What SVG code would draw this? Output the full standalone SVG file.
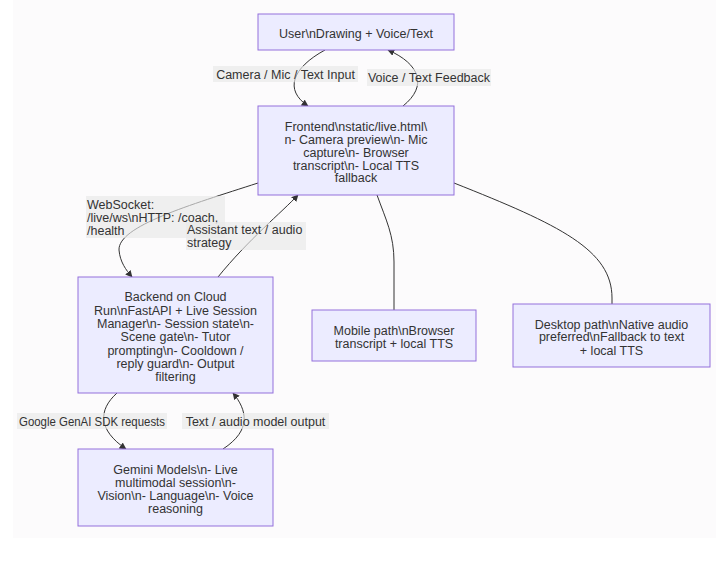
<svg xmlns="http://www.w3.org/2000/svg" width="716" height="573" viewBox="0 0 716 573">
<defs>
<style>
.node rect{fill:#ECECFF;stroke:#9370DB;stroke-width:1}
text{font-family:"Liberation Sans",Arial,sans-serif;font-size:12.5px;fill:#333}
.c{text-anchor:middle}
.edge{fill:none;stroke:#333;stroke-width:1}
.lbl{fill:#e8e8e8;fill-opacity:0.65}
</style>
<marker id="arr" viewBox="0 0 10 10" refX="9" refY="5" markerWidth="7" markerHeight="7" orient="auto-start-reverse" markerUnits="userSpaceOnUse">
<path d="M0,0 L10,5 L0,10 z" fill="#333"/>
</marker>
</defs>
<rect x="0" y="0" width="716" height="573" fill="#ffffff"/>
<rect x="13" y="0" width="703" height="538" fill="#fcfbfc"/>
<g id="connectors">
<path class="edge" d="M325,50 C292,68 284,90 308,106" marker-end="url(#arr)"/>
<path class="edge" d="M403,106 C428,86 420,64 388,50" marker-end="url(#arr)"/>
<path class="edge" d="M258,183 C190,205 118,226 119,250 C120,262 126,270 132,277" marker-end="url(#arr)"/>
<path class="edge" d="M218,277 C248,240 282,212 298,195" marker-end="url(#arr)"/>
<path class="edge" d="M377,195 C386,220 394,235 394,262 L394,310"/>
<path class="edge" d="M454,183 C560,225 612,250 612,298 L612,304"/>
<path class="edge" d="M117,393 C98,410 98,430 126,449" marker-end="url(#arr)"/>
<path class="edge" d="M223,449 C252,430 247,410 233,393" marker-end="url(#arr)"/>
</g>
<g id="edge-labels">
<rect class="lbl" x="213" y="66" width="145" height="16"/>
<text class="c" x="285.5" y="78.5">Camera / Mic / Text Input</text>
<rect class="lbl" x="367" y="69" width="124" height="17"/>
<text class="c" x="429" y="82">Voice / Text Feedback</text>
<rect class="lbl" x="86" y="196" width="139" height="42"/>
<text x="87" y="208.5">WebSocket:</text>
<text x="87" y="222">/live/ws\nHTTP: /coach,</text>
<text x="87" y="235">/health</text>
<rect class="lbl" x="186" y="222" width="120" height="28"/>
<text x="187" y="233.5">Assistant text / audio</text>
<text x="187" y="247">strategy</text>
<rect class="lbl" x="17" y="413" width="150" height="16"/>
<text class="c" x="92" y="425.5" textLength="146" lengthAdjust="spacingAndGlyphs">Google GenAI SDK requests</text>
<rect class="lbl" x="182" y="413" width="147" height="16"/>
<text class="c" x="255.5" y="425.5">Text / audio model output</text>
</g>
<g id="user" class="node">
<rect x="258" y="14" width="196" height="36"/>
<text class="c" x="356" y="37.5">User\nDrawing + Voice/Text</text>
</g>
<g id="frontend" class="node">
<rect x="258" y="106" width="196" height="89"/>
<text class="c" x="356" y="130.5">Frontend\nstatic/live.html\</text>
<text class="c" x="356" y="143.5">n- Camera preview\n- Mic</text>
<text class="c" x="356" y="156.5">capture\n- Browser</text>
<text class="c" x="356" y="169.5">transcript\n- Local TTS</text>
<text class="c" x="356" y="182">fallback</text>
</g>
<g id="backend" class="node">
<rect x="78" y="277" width="195" height="116"/>
<text class="c" x="175.5" y="301">Backend on Cloud</text>
<text class="c" x="175.5" y="314.5">Run\nFastAPI + Live Session</text>
<text class="c" x="175.5" y="327.5">Manager\n- Session state\n-</text>
<text class="c" x="175.5" y="341">Scene gate\n- Tutor</text>
<text class="c" x="175.5" y="354.5">prompting\n- Cooldown /</text>
<text class="c" x="175.5" y="367.5">reply guard\n- Output</text>
<text class="c" x="175.5" y="381">filtering</text>
</g>
<g id="gemini" class="node">
<rect x="78" y="449" width="195" height="77"/>
<text class="c" x="175.5" y="473.5">Gemini Models\n- Live</text>
<text class="c" x="175.5" y="487">multimodal session\n-</text>
<text class="c" x="175.5" y="500">Vision\n- Language\n- Voice</text>
<text class="c" x="175.5" y="512.5">reasoning</text>
</g>
<g id="mobile" class="node">
<rect x="312" y="310" width="164" height="51"/>
<text class="c" x="394" y="335">Mobile path\nBrowser</text>
<text class="c" x="394" y="347.5">transcript + local TTS</text>
</g>
<g id="desktop" class="node">
<rect x="513" y="304" width="197" height="63"/>
<text class="c" x="611.5" y="328.5">Desktop path\nNative audio</text>
<text class="c" x="611.5" y="341">preferred\nFallback to text</text>
<text class="c" x="611.5" y="354.5">+ local TTS</text>
</g>
</svg>
